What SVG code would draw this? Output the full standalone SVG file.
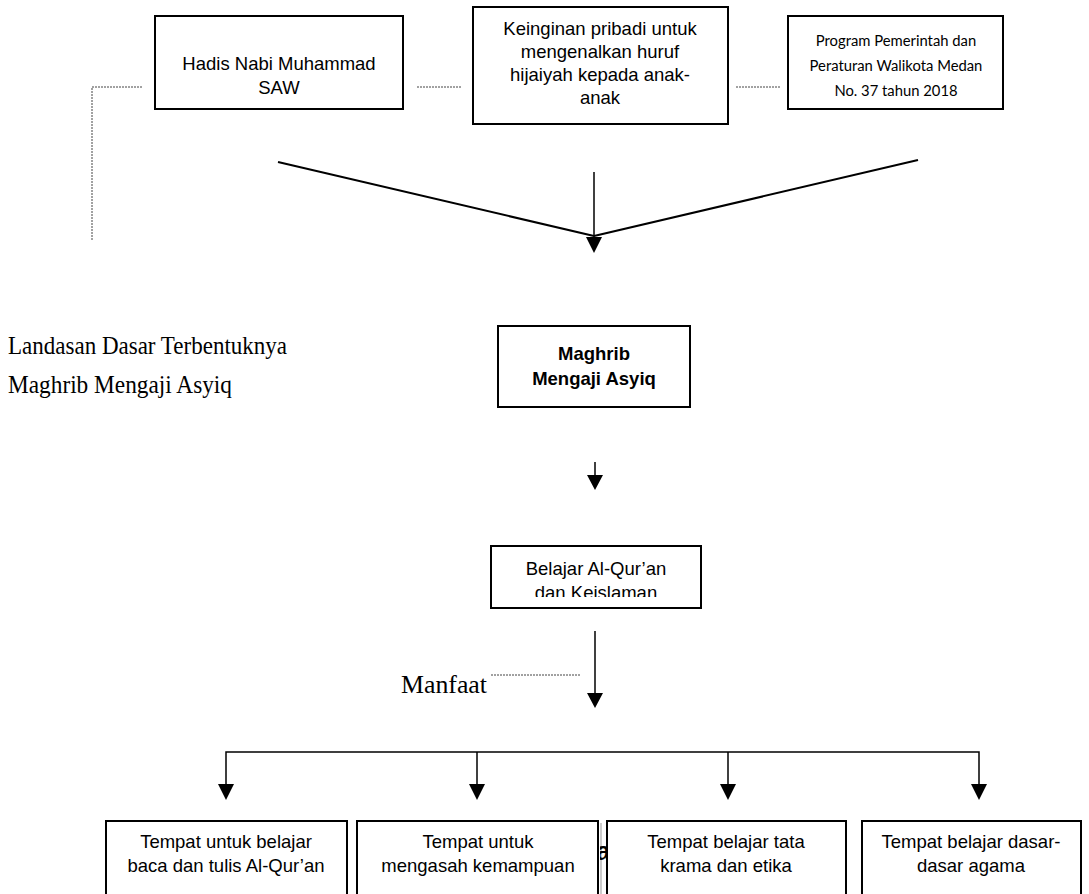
<svg xmlns="http://www.w3.org/2000/svg" width="1089" height="894" viewBox="0 0 1089 894">
<style>
.box{fill:#fff;stroke:#000;stroke-width:2}
.t{font-family:"Liberation Sans",Arial,sans-serif;font-size:18.5px;fill:#000;text-anchor:middle}
.tb{font-family:"Liberation Sans",Arial,sans-serif;font-size:18.5px;font-weight:bold;fill:#000;text-anchor:middle}
.tc{font-family:Lato,"Open Sans",sans-serif;font-size:14.8px;fill:#000;text-anchor:middle}
.serif{font-family:"Liberation Serif","Times New Roman",serif;font-size:26px;fill:#000}
.ln{stroke:#000;stroke-width:2;fill:none}
.ln1{stroke:#000;stroke-width:1.5;fill:none}
.dot{stroke:#444;stroke-width:1;stroke-dasharray:2 1;fill:none}
</style>
<defs>
<clipPath id="clipB"><rect x="492" y="547" width="208" height="50"/></clipPath>
<clipPath id="clipA"><rect x="600" y="820" width="7" height="74"/></clipPath>
</defs>

<g id="connectors">
<polyline class="dot" points="142,87 92,87 92,240"/>
<line class="dot" x1="417" y1="87" x2="462" y2="87"/>
<line class="dot" x1="736" y1="87" x2="781" y2="87"/>
<line class="ln" x1="278" y1="162" x2="594" y2="236"/>
<line class="ln" x1="918" y1="160" x2="594" y2="236"/>
<line class="ln1" x1="594" y1="172" x2="594" y2="238"/>
<polygon points="586,237 602,237 594,253" fill="#000"/>
<line class="ln1" x1="595" y1="462" x2="595" y2="476"/>
<polygon points="587,475 603,475 595,490" fill="#000"/>
<line class="ln1" x1="595" y1="631" x2="595" y2="694"/>
<polygon points="587,693 603,693 595,708" fill="#000"/>
<line class="dot" x1="491" y1="675" x2="581" y2="675"/>
<polyline class="ln1" points="226,785 226,752 979,752 979,785"/>
<line class="ln1" x1="477" y1="752" x2="477" y2="785"/>
<line class="ln1" x1="728" y1="752" x2="728" y2="785"/>
<polygon points="218,784 234,784 226,800" fill="#000"/>
<polygon points="469,784 485,784 477,800" fill="#000"/>
<polygon points="720,784 736,784 728,800" fill="#000"/>
<polygon points="971,784 987,784 979,800" fill="#000"/>
</g>

<g id="n-hadis">
<rect class="box" x="155" y="16" width="248" height="93"/>
<text class="t" x="279" y="70">Hadis Nabi Muhammad</text>
<text class="t" x="279" y="94">SAW</text>
</g>

<g id="n-keinginan">
<rect class="box" x="473" y="7" width="255" height="117"/>
<text class="t" x="600" y="35">Keinginan pribadi untuk</text>
<text class="t" x="600" y="58">mengenalkan huruf</text>
<text class="t" x="600" y="81">hijaiyah kepada anak-</text>
<text class="t" x="600" y="104">anak</text>
</g>

<g id="n-program">
<rect class="box" x="788" y="16" width="215" height="93"/>
<text class="tc" x="896" y="46">Program Pemerintah dan</text>
<text class="tc" x="896" y="71">Peraturan Walikota Medan</text>
<text class="tc" x="896" y="96">No. 37 tahun 2018</text>
</g>

<g id="label-landasan">
<text class="serif" x="8" y="354" textLength="279" lengthAdjust="spacingAndGlyphs">Landasan Dasar Terbentuknya</text>
<text class="serif" x="8" y="393" textLength="224" lengthAdjust="spacingAndGlyphs">Maghrib Mengaji Asyiq</text>
</g>

<g id="n-maghrib">
<rect class="box" x="498" y="326" width="192" height="81"/>
<text class="tb" x="594" y="360">Maghrib</text>
<text class="tb" x="594" y="385">Mengaji Asyiq</text>
</g>

<g id="n-belajar">
<rect class="box" x="491" y="546" width="210" height="62"/>
<g clip-path="url(#clipB)">
<text class="t" x="596" y="575">Belajar Al-Qur’an</text>
<text class="t" x="596" y="599">dan Keislaman</text>
</g>
</g>

<g id="label-manfaat">
<text class="serif" x="401" y="693" textLength="86" lengthAdjust="spacingAndGlyphs">Manfaat</text>
</g>

<g id="n-b1">
<rect class="box" x="106" y="821" width="241" height="90"/>
<text class="t" x="226" y="848">Tempat untuk belajar</text>
<text class="t" x="226" y="872">baca dan tulis Al-Qur’an</text>
</g>

<g id="n-b2">
<rect class="box" x="357" y="821" width="241" height="90"/>
<text class="t" x="478" y="848">Tempat untuk</text>
<text class="t" x="478" y="872">mengasah kemampuan</text>
<line x1="601" y1="823" x2="601" y2="894" stroke="#999" stroke-width="1"/>
<g clip-path="url(#clipA)">
<text x="596" y="860" style="font-family:'Liberation Sans',Arial,sans-serif;font-size:26px;font-weight:bold">a</text>
</g>
</g>

<g id="n-b3">
<rect class="box" x="607" y="821" width="239" height="90"/>
<text class="t" x="726" y="848">Tempat belajar tata</text>
<text class="t" x="726" y="872">krama dan etika</text>
</g>

<g id="n-b4">
<rect class="box" x="862" y="821" width="219" height="90"/>
<text class="t" x="971" y="848">Tempat belajar dasar-</text>
<text class="t" x="971" y="872">dasar agama</text>
</g>
</svg>
